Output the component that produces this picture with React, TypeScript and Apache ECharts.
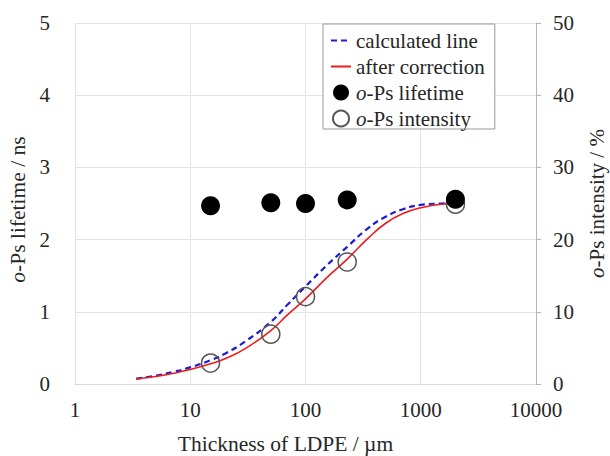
import React, { useEffect, useRef } from "react";
import * as echarts from "echarts";

// Measured points
const thickness = [15, 50, 100, 230, 2000];
const lifetimeNs = [2.47, 2.51, 2.5, 2.55, 2.56];
const intensityPct = [2.9, 6.9, 12.1, 16.9, 24.9];

// Curves (x in µm, y in %)
const curveX = [3.4, 5, 7, 10, 15, 20, 30, 50, 70, 100, 150, 230, 350, 500, 700, 1000, 1500, 2000];
const calculatedY = [0.75, 1.15, 1.65, 2.3, 3.3, 4.2, 5.9, 8.6, 11.0, 13.5, 16.3, 19.0, 21.6, 23.2, 24.2, 24.8, 25.0, 25.05];
const correctedY = [0.7, 1.05, 1.45, 2.0, 2.8, 3.5, 4.9, 7.4, 9.6, 11.8, 14.6, 17.3, 20.2, 22.3, 23.6, 24.4, 24.9, 25.0];

const xTicks = [1, 10, 100, 1000, 10000];
const leftTicks = [0, 1, 2, 3, 4, 5];
const rightTicks = [0, 10, 20, 30, 40, 50];

const FONT = "'Liberation Serif', 'Times New Roman', serif";
const TXT = "#262626";
const TICK_FS = 21;
const NAME_FS = 21.5;
const LEG_FS = 21;

export default function App() {
  const ref = useRef<HTMLDivElement>(null);
  useEffect(() => {
    if (!ref.current) return;
    const chart = echarts.init(ref.current, undefined, { renderer: "svg" });
    const zip = (xs: number[], ys: number[]) => xs.map((x, i) => [x, ys[i]]);
    const hidden = { color: "rgba(0,0,0,0)", borderWidth: 0, opacity: 0 };
    const italic = (fs: number) => ({ i: { fontStyle: "italic", fontFamily: FONT, fontSize: fs, color: TXT } });
    chart.setOption({
      animation: false,
      textStyle: { fontFamily: FONT },
      grid: { left: 75, right: 74, top: 23, bottom: 72, containLabel: false, outerBoundsMode: "none" },
      legend: {
        orient: "vertical",
        left: 323,
        top: 24,
        padding: [6, 10, 0, 7],
        itemGap: 5,
        itemWidth: 20,
        itemHeight: 16,
        borderColor: "#9a9a9a",
        borderWidth: 1,
        backgroundColor: "#fff",
        textStyle: { fontFamily: FONT, fontSize: LEG_FS, color: TXT, rich: italic(LEG_FS) },
        formatter: (name: string) => name.replace(/^o-/, "{i|o}-"),
        data: [
          { name: "calculated line", itemStyle: hidden },
          { name: "after correction", itemStyle: hidden },
          "o-Ps lifetime",
          "o-Ps intensity",
        ],
      },
      xAxis: {
        type: "log",
        logBase: 10,
        min: xTicks[0],
        max: xTicks[xTicks.length - 1],
        name: "Thickness of LDPE / µm",
        nameLocation: "middle",
        nameGap: 49,
        nameTextStyle: { fontFamily: FONT, fontSize: NAME_FS, color: TXT, padding: [0, 40, 0, 0] },
        axisLine: { show: true, lineStyle: { color: "#d9d9d9" } },
        axisTick: { show: false },
        axisLabel: {
          fontFamily: FONT,
          fontSize: TICK_FS,
          color: TXT,
          margin: 15,
          formatter: (v: number) => String(Math.round(v)),
        },
        splitLine: { show: true, lineStyle: { color: "#e3e3e3" } },
      },
      yAxis: [
        {
          type: "value",
          min: leftTicks[0],
          max: leftTicks[leftTicks.length - 1],
          interval: 1,
          name: "{i|o}-Ps lifetime / ns",
          nameLocation: "middle",
          nameGap: 35,
          nameRotate: 90,
          nameTextStyle: {
            fontFamily: FONT,
            fontSize: NAME_FS,
            color: TXT,
            padding: [0, 12, 0, 0],
            rich: italic(NAME_FS),
          },
          axisLine: { show: false },
          axisTick: { show: false },
          axisLabel: { fontFamily: FONT, fontSize: TICK_FS, color: TXT, margin: 25 },
          splitLine: { show: true, lineStyle: { color: "#e3e3e3" } },
        },
        {
          type: "value",
          position: "right",
          min: rightTicks[0],
          max: rightTicks[rightTicks.length - 1],
          interval: 10,
          name: "{i|o}-Ps intensity / %",
          nameLocation: "middle",
          nameGap: 50,
          nameRotate: 90,
          nameTextStyle: { fontFamily: FONT, fontSize: 21, color: TXT, rich: italic(21) },
          axisLine: { show: true, lineStyle: { color: "#b5b5b5" } },
          axisTick: { show: true, inside: false, length: 5, lineStyle: { color: "#b5b5b5" } },
          axisLabel: { fontFamily: FONT, fontSize: TICK_FS, color: TXT, margin: 17 },
          splitLine: { show: false },
        },
      ],
      series: [
        {
          name: "calculated line",
          type: "line",
          yAxisIndex: 1,
          smooth: true,
          symbol: "none",
          data: zip(curveX, calculatedY),
          lineStyle: { color: "#1c1cd8", width: 2.2, type: [6, 4] },
          itemStyle: { color: "#1c1cd8" },
          z: 3,
        },
        {
          name: "after correction",
          type: "line",
          yAxisIndex: 1,
          smooth: true,
          symbol: "none",
          data: zip(curveX, correctedY),
          lineStyle: { color: "#ec1c1c", width: 1.6 },
          itemStyle: { color: "#ec1c1c" },
          z: 3,
        },
        {
          name: "o-Ps intensity",
          type: "scatter",
          yAxisIndex: 1,
          symbol: "circle",
          symbolSize: 18,
          data: zip(thickness, intensityPct),
          itemStyle: { color: "rgba(255,255,255,0)", borderColor: "#555", borderWidth: 1.5, opacity: 1 },
          z: 4,
        },
        {
          name: "o-Ps lifetime",
          type: "scatter",
          yAxisIndex: 0,
          symbol: "circle",
          symbolSize: 19,
          data: zip(thickness, lifetimeNs),
          itemStyle: { color: "#000", opacity: 1 },
          z: 5,
        },
      ],
    });
    return () => chart.dispose();
  }, []);
  return (
    <div
      ref={ref}
      style={{ position: "absolute", left: 0, top: 0, width: 610, height: 456 }}
    />
  );
}
